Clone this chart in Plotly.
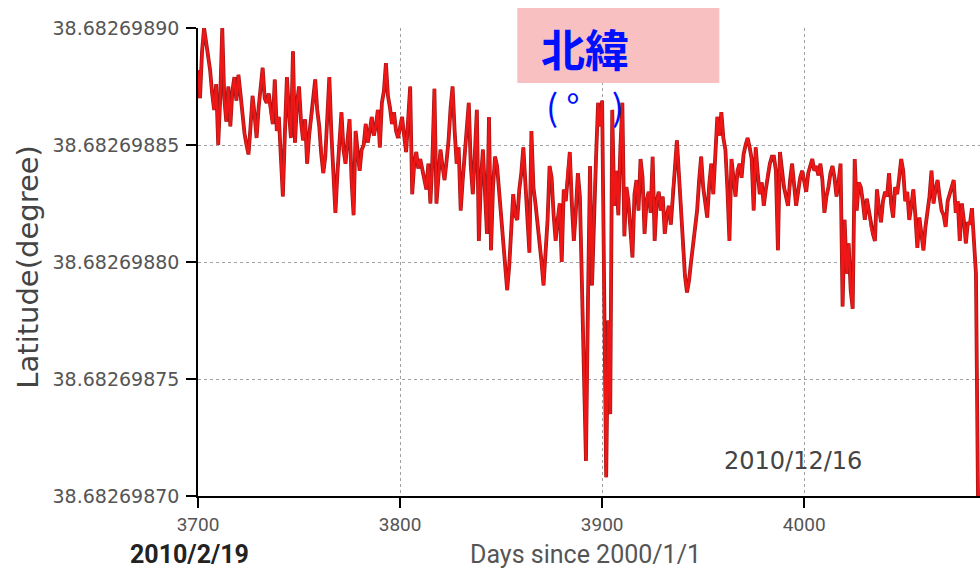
import plotly.graph_objects as go

# Daily GPS latitude, in nano-degrees above 38.68269870, starting on day 3700
day_start = 3700
lat_offset_nd = [
    18.2, 17.0, 19.0, 20.0, 19.4, 18.8, 18.2, 17.2, 16.5, 17.6,
    15.0, 17.0, 20.0, 17.0, 16.0, 17.5, 15.8, 17.3, 17.9, 16.9,
    18.0, 17.2, 16.2, 15.5, 15.0, 14.6, 15.8, 17.1, 16.3, 15.3,
    16.6, 17.5, 18.3, 17.0, 16.8, 17.2, 16.4, 15.9, 17.8, 15.6,
    16.2, 14.5, 12.8, 15.5, 17.9, 16.4, 15.3, 19.0, 15.1, 16.8,
    17.5, 16.0, 15.2, 16.1, 14.2, 15.4, 16.1, 16.8, 17.8, 16.5,
    15.8, 14.6, 13.8, 14.5, 16.2, 17.9, 15.5, 13.6, 12.1, 13.8,
    14.9, 16.4, 14.8, 14.2, 15.2, 16.1, 13.5, 12.0, 15.6, 14.5,
    13.9, 14.8, 15.0, 15.9, 15.1, 15.6, 16.2, 15.4, 15.8, 16.5,
    14.9, 16.8, 17.3, 18.5, 17.1, 16.6, 15.9, 16.4, 15.6, 15.3,
    15.8, 16.2, 15.4, 14.7, 16.1, 17.5, 12.9, 14.2, 14.7, 14.0,
    14.4, 14.0, 13.6, 13.1, 14.2, 12.5, 14.4, 17.4, 12.5, 13.8,
    14.8, 14.1, 13.5, 14.3, 15.2, 16.6, 17.5, 15.6, 14.2, 14.9,
    12.2, 13.5, 14.6, 15.4, 16.8, 14.1, 12.9, 14.6, 16.5, 10.9,
    13.5, 14.8, 13.0, 11.2, 16.2, 10.5, 13.2, 14.5, 14.1, 13.0,
    12.2, 11.0, 9.6, 8.8, 9.8, 11.4, 12.9, 12.0, 11.8, 13.1,
    13.8, 14.9, 13.6, 12.0, 10.4, 15.6, 13.2, 12.5, 11.7, 11.0,
    10.0, 9.0, 10.5, 11.8, 14.1, 13.6, 12.0, 10.9, 11.8, 12.5,
    10.0, 13.1, 12.6, 13.9, 14.7, 12.5, 10.9, 12.2, 13.8, 12.8,
    9.5, 5.5, 1.5, 8.4, 14.1, 9.0, 12.4, 14.5, 16.8, 15.8,
    16.9, 8.0, 0.8, 7.5, 3.5, 16.5, 12.4, 13.9, 12.0, 14.8,
    16.8, 11.1, 13.2, 12.6, 11.5, 10.2, 12.9, 13.5, 12.2, 14.4,
    13.6, 11.2, 12.6, 13.0, 12.1, 14.5, 10.9, 12.6, 13.0, 12.2,
    12.8, 11.2, 12.0, 12.4, 11.6, 13.1, 14.0, 15.2, 13.8, 12.5,
    10.6, 9.4, 8.7, 9.2, 10.0, 10.8, 11.5, 12.2, 13.5, 14.5,
    13.2, 12.6, 11.9, 13.3, 14.2, 12.9, 14.8, 16.2, 15.4, 16.4,
    15.3, 14.8, 13.1, 10.9, 14.4, 13.5, 12.8, 13.9, 14.2, 13.6,
    14.6, 15.0, 15.3, 14.9, 14.4, 12.2, 14.9, 13.8, 12.9, 13.4,
    12.4, 13.1, 13.8, 14.2, 14.5, 14.5, 13.9, 10.5, 14.7, 13.8,
    13.2, 12.8, 12.4, 13.5, 14.2, 13.3, 12.4, 13.0, 13.6, 13.9,
    13.4, 13.0, 13.8, 14.1, 14.4, 13.9, 14.1, 13.7, 14.2, 13.5,
    12.1, 12.8, 13.2, 13.8, 14.1, 13.6, 12.8, 13.4, 14.2, 8.1,
    11.8, 9.5, 10.8, 8.8, 8.0, 14.4, 12.2, 13.4, 13.2, 12.6,
    11.8, 12.7, 12.2, 11.5, 11.2, 10.9, 13.1, 12.3, 11.7, 12.6,
    13.0, 12.8, 13.8, 12.5, 11.9, 13.2, 12.9, 13.6, 14.4, 13.9,
    12.6, 13.0, 11.8, 12.4, 13.1, 12.0, 10.6, 11.9, 11.2, 10.5,
    11.5, 12.2, 12.8, 13.9, 12.5, 13.1, 13.5, 12.8, 12.2, 12.0,
    11.5, 12.6, 12.9, 13.2, 13.5, 12.1, 12.6, 10.9, 12.5, 11.8,
    10.8, 11.7, 11.6, 12.3, 10.6, 9.5, 0.0,
]

# y axis works in nano-degree offsets; ticks carry the full latitude text
y_tick_vals = [0, 5, 10, 15, 20]
y_tick_text = ["38.68269870", "38.68269875", "38.68269880", "38.68269885", "38.68269890"]
x_tick_vals = [3700, 3800, 3900, 4000]
x_tick_text = ["3700", "3800", "3900", "4000"]

days = list(range(day_start, day_start + len(lat_offset_nd)))

fig = go.Figure()
# darker under-stroke gives the line its dark red edge
fig.add_trace(go.Scatter(x=days, y=lat_offset_nd, mode="lines",
                         line=dict(color="#9e1818", width=3.8),
                         hoverinfo="skip", showlegend=False))
fig.add_trace(go.Scatter(x=days, y=lat_offset_nd, mode="lines",
                         line=dict(color="#f01616", width=2.4),
                         showlegend=False))

grid = dict(showgrid=True, gridcolor="#a0a0a0", griddash="dot", gridwidth=1.2)

fig.update_layout(
    width=980, height=572,
    margin=dict(l=198, r=0, t=28, b=76),
    paper_bgcolor="white", plot_bgcolor="white",
    xaxis=dict(range=[3700, 4087], tickvals=x_tick_vals, ticktext=x_tick_text,
               showline=True, linecolor="black", linewidth=1.5,
               ticks="outside", ticklen=10, tickcolor="black", tickwidth=1.5,
               zeroline=False, ticklabelstandoff=0,
               tickfont=dict(family="Roboto", size=19, color="#555"),
               **grid),
    yaxis=dict(range=[0, 20], tickvals=y_tick_vals, ticktext=y_tick_text,
               showline=True, linecolor="black", linewidth=1.5,
               ticks="outside", ticklen=10, tickcolor="black", tickwidth=1.5,
               zeroline=False, ticklabelstandoff=3,
               tickfont=dict(family="DejaVu Sans", size=19, color="#555"),
               **grid),
)

# pink label box over the top of the plot
fig.add_shape(type="rect", xref="x", yref="paper", x0=3858, x1=3958, y0=0.8825, y1=1.0427,
              fillcolor="#f8c0c0", line=dict(width=0), layer="above")

blue = "#0010ff"
bottom_y = (496 - 571) / 468
anns = [
    dict(text="Latitude(degree)", x=-0.2174, y=0.49, textangle=-90,
         font=dict(family="DejaVu Sans", size=29, color="#444")),
    dict(text="<b>2010/2/19</b>", x=-0.0115, y=bottom_y, yanchor="bottom",
         font=dict(family="Roboto", size=25, color="#222")),
    dict(text="Days since 2000/1/1", x=0.496, y=bottom_y, yanchor="bottom",
         font=dict(family="Roboto", size=25, color="#555")),
    dict(text="2010/12/16", x=0.761, y=0.0748,
         font=dict(family="DejaVu Sans", size=24, color="#444")),
    dict(text="<b>北緯</b>", x=0.495, y=(496 - 48) / 468,
         font=dict(family="Noto Sans CJK JP", size=44, color=blue)),
    dict(text="(&nbsp;°&nbsp;&nbsp;&nbsp;&nbsp;)", x=(585 - 198) / 782, y=(496 - 105) / 468,
         font=dict(family="Noto Sans CJK JP", size=36, color=blue)),
]
for a in anns:
    a.setdefault("yanchor", "middle")
    fig.add_annotation(xref="paper", yref="paper", showarrow=False,
                       xanchor="center", **a)

fig.write_html("out.html")
